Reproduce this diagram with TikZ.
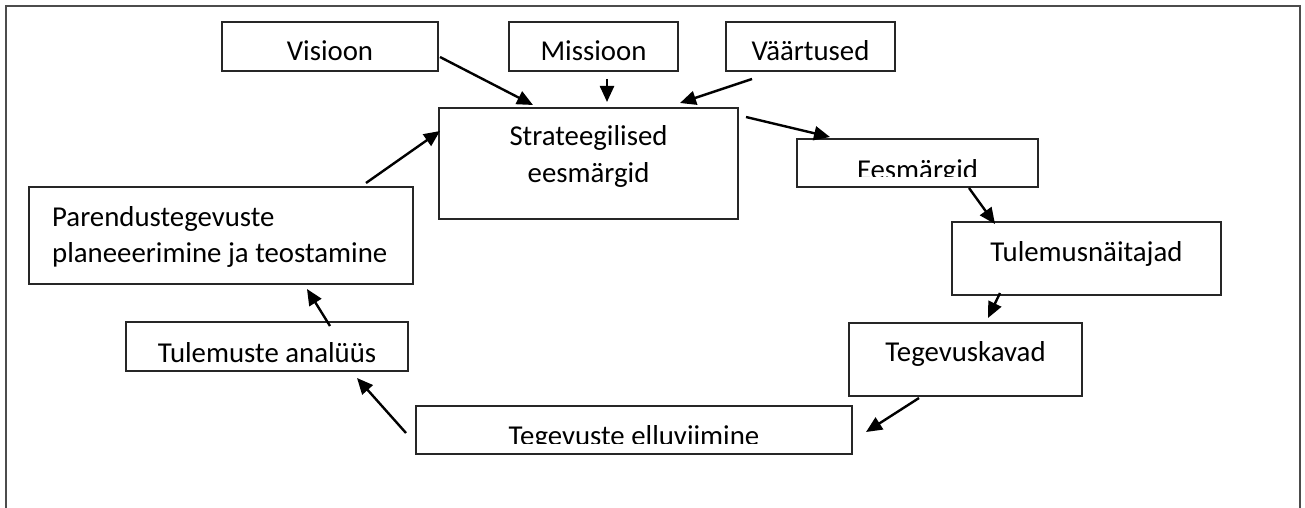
\documentclass[tikz,border=0pt]{standalone}
\usepackage{fontspec}
\setmainfont{Carlito}
\usetikzlibrary{arrows.meta}
\begin{document}
\begin{tikzpicture}[x=1pt,y=-1pt,
  box/.style={draw=black!85, line width=1.4pt, inner sep=0pt, fill=none},
  lbl/.style={font=\fontsize{28.8}{36}\selectfont, inner sep=0pt, anchor=base},
  lbll/.style={font=\fontsize{28.8}{36}\selectfont, inner sep=0pt, anchor=base west},
  arr/.style={line width=2.4pt, -{Triangle[length=16pt,width=14pt]}},
  frame/.style={line width=1.6pt, draw=black!70}
]
\useasboundingbox (0,0) rectangle (1305,508);
\draw[frame] (6,510) -- (6,6) -- (1300,6) -- (1300,510);

% boxes
\node[box, minimum width=216pt, minimum height=49pt] (vis) at (330,46.5) {};
\node[box, minimum width=169pt, minimum height=49pt] (mis) at (593.5,46.5) {};
\node[box, minimum width=169pt, minimum height=49pt] (vaa) at (810.5,46.5) {};
\node[box, minimum width=299pt, minimum height=111pt] (str) at (588.5,163.5) {};
\node[box, minimum width=241pt, minimum height=48pt] (ees) at (917.5,163) {};
\node[box, minimum width=269pt, minimum height=73pt] (tul) at (1086.5,258.5) {};
\node[box, minimum width=233pt, minimum height=73pt] (teg) at (965.5,359.5) {};
\node[box, minimum width=436pt, minimum height=48pt] (ell) at (634,430) {};
\node[box, minimum width=282pt, minimum height=49pt] (ana) at (267,346.5) {};
\node[box, minimum width=384pt, minimum height=97pt] (par) at (221,235.5) {};

% texts
\node[lbl] (visT) at (330,61) {Visioon};
\node[lbl] (misT) at (593.5,61) {Missioon};
\node[lbl] (vaaT) at (810.5,61) {Väärtused};
\node[lbl] (strT1) at (588.5,146) {Strateegilised};
\node[lbl] (strT2) at (588.5,182) {eesmärgid};
\begin{scope}
  \clip (797,139) rectangle (1038,176);
  \node[lbl] (eesT) at (917.5,179) {Eesmärgid};
\end{scope}
\node[lbl] (tulT) at (1086.5,261) {Tulemusnäitajad};
\node[lbl] (tegT) at (965.5,361) {Tegevuskavad};
\begin{scope}
  \clip (416,406) rectangle (852,443);
  \node[lbl] (ellT) at (634,445) {Tegevuste elluviimine};
\end{scope}
\node[lbl] (anaT) at (267,362) {Tulemuste analüüs};
\node[lbll] (parT1) at (52,226.5) {Parendustegevuste};
\node[lbll] (parT2) at (52,262.5) {planeeerimine ja teostamine};

% connector ends
\coordinate (a1s) at (440,57);   \coordinate (a1e) at (533,105);
\coordinate (a2s) at (607,79);   \coordinate (a2e) at (607,102);
\coordinate (a3s) at (752,79);   \coordinate (a3e) at (680,103);
\coordinate (a4s) at (746,117);  \coordinate (a4e) at (830,137);
\coordinate (a5s) at (969,188);  \coordinate (a5e) at (995,224);
\coordinate (a6s) at (1000,293); \coordinate (a6e) at (988,318);
\coordinate (a7s) at (919,398);  \coordinate (a7e) at (866,432);
\coordinate (a8s) at (406,433);  \coordinate (a8e) at (357,378);
\coordinate (a9s) at (330,326);  \coordinate (a9e) at (307,289);
\coordinate (a10s) at (366,183); \coordinate (a10e) at (440,131);

\draw[arr] (a1s) -- (a1e);
\draw[arr] (a2s) -- (a2e);
\draw[arr] (a3s) -- (a3e);
\draw[arr] (a4s) -- (a4e);
\draw[arr] (a5s) -- (a5e);
\draw[arr] (a6s) -- (a6e);
\draw[arr] (a7s) -- (a7e);
\draw[arr] (a8s) -- (a8e);
\draw[arr] (a9s) -- (a9e);
\draw[arr] (a10s) -- (a10e);
\end{tikzpicture}
\end{document}
